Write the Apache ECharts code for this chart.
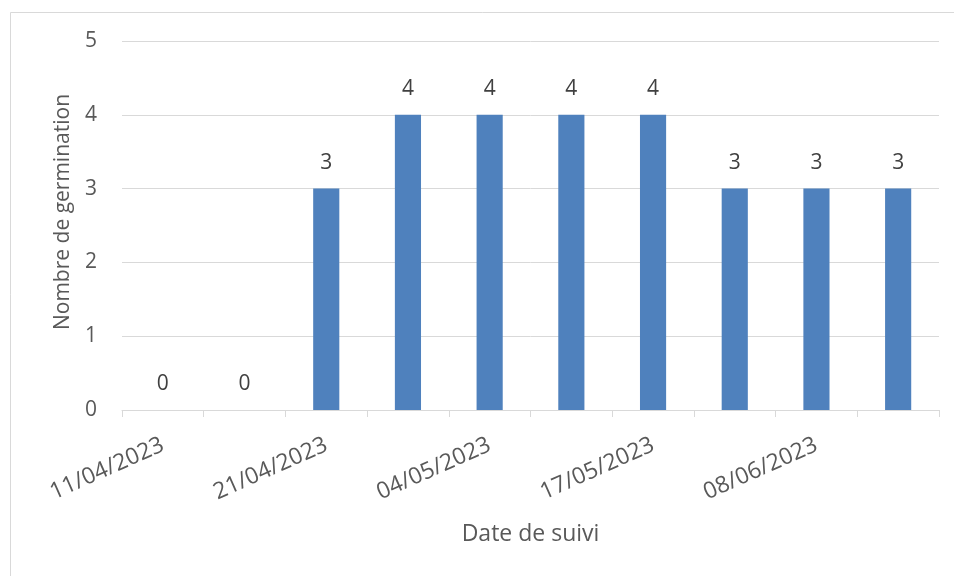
<!DOCTYPE html>
<html><head><meta charset="utf-8">
<script src="https://cdn.jsdelivr.net/npm/echarts@6/dist/echarts.min.js"></script>
<style>html,body{margin:0;padding:0;background:#fff}#c{width:954px;height:576px}</style>
</head><body><div id="c"></div>
<script>
const categories = ['11/04/2023','14/04/2023','21/04/2023','27/04/2023','04/05/2023','10/05/2023','17/05/2023','24/05/2023','08/06/2023','15/06/2023'];
const germination = [0,0,3,4,4,4,4,3,3,3];
const yTicks = [0,1,2,3,4,5];

const chart = echarts.init(document.getElementById('c'));
const font = '"Open Sans", Lato, sans-serif';
chart.setOption({
  animation:false,
  backgroundColor:'#fff',
  graphic:[{type:'rect',shape:{x:10.5,y:12.5,width:980,height:600},style:{fill:'none',stroke:'#d9d9d9',lineWidth:1}}],
  grid:{left:122,right:15,top:41,bottom:166},
  xAxis:{
    type:'category',data:categories,
    name:'Date de suivi',nameLocation:'middle',nameGap:113,
    nameTextStyle:{fontFamily:font,fontSize:23,color:'#595959'},
    axisLine:{lineStyle:{color:'#d9d9d9',width:1}},
    axisTick:{show:true,interval:0,length:7,lineStyle:{color:'#d9d9d9'}},
    axisLabel:{interval:1,rotate:24,fontFamily:font,fontSize:23,color:'#595959',margin:34}
  },
  yAxis:{
    type:'value',min:0,max:5,interval:1,
    name:'Nombre de germination',nameLocation:'middle',nameGap:48,
    nameTextStyle:{fontFamily:font,fontSize:21,color:'#595959',padding:[0,0,0,27]},
    axisLine:{show:false},axisTick:{show:false},
    splitLine:{lineStyle:{color:'#d9d9d9',width:1}},
    axisLabel:{fontFamily:font,fontSize:21,color:'#595959',margin:25,
      formatter:v=>yTicks.includes(v)?String(v):''}
  },
  series:[{
    type:'bar',data:germination,barWidth:'32%',
    itemStyle:{color:'#4f81bd'},
    label:{show:true,position:'top',distance:15,fontFamily:font,fontSize:21,color:'#404040'}
  }]
});
</script></body></html>
